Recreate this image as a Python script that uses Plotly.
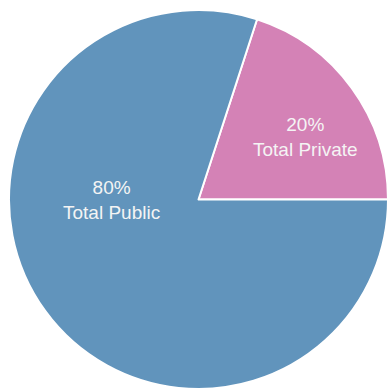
import plotly.graph_objects as go

# Share of total, by sector
sectors = ["Total Private", "Total Public"]
shares = [20, 80]
colors = ["#D482B6", "#6194BC"]

W, H = 388, 391

fig = go.Figure(
    go.Pie(
        labels=sectors,
        values=shares,
        sort=False,
        direction="counterclockwise",
        rotation=18,
        marker=dict(colors=colors, line=dict(color="white", width=2)),
        textinfo="none",
        hoverinfo="label+percent",
        domain=dict(x=[9 / W, 1], y=[1 / H, 382 / H]),
        showlegend=False,
    )
)

# Percentage + name labels placed inside each slice
label_pos = {"Total Private": (305 / W, 1 - 137 / H), "Total Public": (112 / W, 1 - 200 / H)}
total = sum(shares)
for name, val in zip(sectors, shares):
    x, y = label_pos[name]
    fig.add_annotation(
        x=x, y=y, xref="paper", yref="paper",
        xanchor="center", yanchor="middle",
        text=f"{round(100 * val / total)}%<br>{name}",
        showarrow=False,
        font=dict(family="Liberation Sans, Arial, sans-serif", size=19, color="#F4F4F4"),
        align="center",
    )

fig.update_layout(
    width=W, height=H,
    margin=dict(l=0, r=0, t=0, b=0),
    paper_bgcolor="white",
    plot_bgcolor="white",
)

fig.write_html("out.html")
